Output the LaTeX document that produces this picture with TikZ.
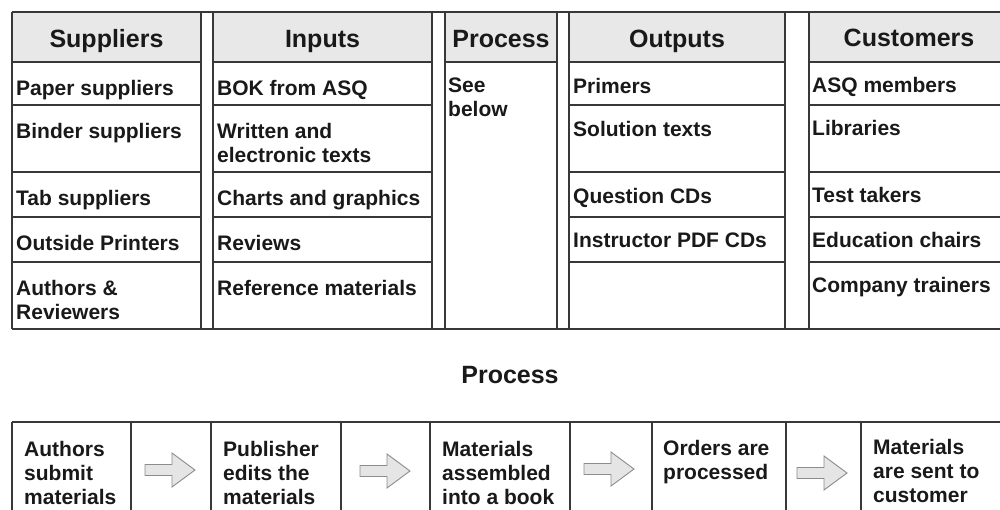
\documentclass[tikz,border=0pt]{standalone}
\usepackage{fontspec}
\setmainfont{Liberation Sans}
\begin{document}
\begin{tikzpicture}[x=1pt,y=-1pt,
  tline/.style={line width=2.2pt, draw=black!78},
  hdrfill/.style={fill=black!9},
  hdr/.style={font=\fontsize{25}{28}\selectfont\bfseries, anchor=base, inner sep=0pt, text=black!90},
  body/.style={font=\fontsize{21}{24}\selectfont\bfseries, anchor=north west, inner sep=0pt, align=left, text=black!90},
  blockarrow/.pic={
    \path[draw=black!45, line width=0.9pt, fill=black!10, line join=miter]
      (-25,-5.5) -- (2,-5.5) -- (2,-17) -- (25,0) -- (2,17) -- (2,5.5) -- (-25,5.5) -- cycle;
  }]
\useasboundingbox (0,0) rectangle (1000,509);
\clip (0,0) rectangle (1000,509);

% ---------- top table: header shading ----------
\fill[hdrfill] (12,12) rectangle (201,62);
\fill[hdrfill] (213,12) rectangle (432,62);
\fill[hdrfill] (445,12) rectangle (557,62);
\fill[hdrfill] (569,12) rectangle (785,62);
\fill[hdrfill] (809,12) rectangle (1010,62);

% ---------- top table: lines ----------
\draw[tline] (12,12) -- (1010,12);
\draw[tline] (12,329) -- (1010,329);
\foreach \x in {12,201,213,432,445,557,569,785,809}
  \draw[tline] (\x,12) -- (\x,329);
% header bottoms
\foreach \l/\r in {12/201,213/432,445/557,569/785,809/1010}
  \draw[tline] (\l,62) -- (\r,62);
% row lines
\foreach \l/\r in {12/201,213/432,569/785,809/1010}
  \foreach \y in {105,172,217,262}
    \draw[tline] (\l,\y) -- (\r,\y);

% ---------- headers ----------
\node[hdr] (hsup) at (106.5,47) {Suppliers};
\node[hdr] (hinp) at (322.5,47) {Inputs};
\node[hdr] (hpro) at (501,47) {Process};
\node[hdr] (hout) at (677,47) {Outputs};
\node[hdr] (hcus) at (909,46) {Customers};

% ---------- Suppliers ----------
\node[body] (s1) at (16,80) {Paper suppliers};
\node[body] (s2) at (16,123) {Binder suppliers};
\node[body] (s3) at (16,190) {Tab suppliers};
\node[body] (s4) at (16,235) {Outside Printers};
\node[body] (s5) at (16,280) {Authors \&\\Reviewers};

% ---------- Inputs ----------
\node[body] (i1) at (217,80) {BOK from ASQ};
\node[body] (i2) at (217,123) {Written and\\electronic texts};
\node[body] (i3) at (217,190) {Charts and graphics};
\node[body] (i4) at (217,235) {Reviews};
\node[body] (i5) at (217,280) {Reference materials};

% ---------- Process ----------
\node[body] (p1) at (448,78) {See\\below};

% ---------- Outputs ----------
\node[body] (o1) at (573,78) {Primers};
\node[body] (o2) at (573,121) {Solution texts};
\node[body] (o3) at (573,188) {Question CDs};
\node[body] (o4) at (573,233) {Instructor PDF CDs};

% ---------- Customers ----------
\node[body] (c1) at (812,77) {ASQ members};
\node[body] (c2) at (812,120) {Libraries};
\node[body] (c3) at (812,187) {Test takers};
\node[body] (c4) at (812,232) {Education chairs};
\node[body] (c5) at (812,277) {Company trainers};

% ---------- Process title ----------
\node[hdr] (ptitle) at (510,383) {Process};

% ---------- bottom process row ----------
\draw[tline] (12,422) -- (1010,422);
\foreach \x in {12,131,211,341,430,570,652,786,861}
  \draw[tline] (\x,422) -- (\x,515);

\node[body] (b1) at (24,441) {Authors\\submit\\materials};
\node[body] (b2) at (223,441) {Publisher\\edits the\\materials};
\node[body] (b3) at (442,441) {Materials\\assembled\\into a book};
\node[body] (b4) at (663,440) {Orders are\\processed};
\node[body] (b5) at (873,439) {Materials\\are sent to\\customer};

\pic at (170,470) {blockarrow};
\pic at (385,471) {blockarrow};
\pic at (609,469) {blockarrow};
\pic at (822,473) {blockarrow};
\end{tikzpicture}
\end{document}
